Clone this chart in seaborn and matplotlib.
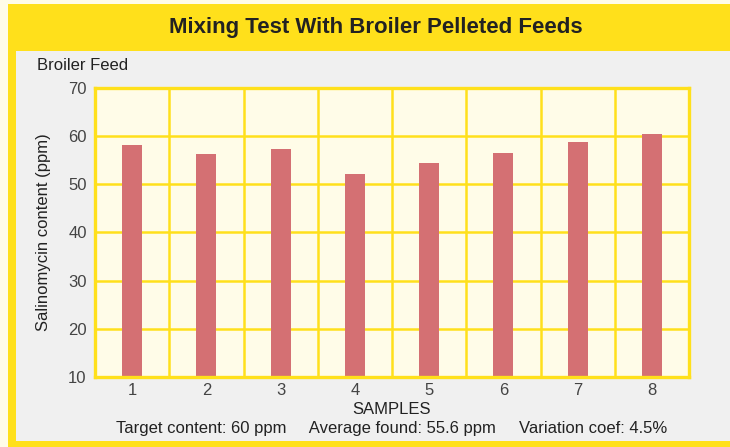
import numpy as np
import matplotlib
matplotlib.use("Agg")
import matplotlib.pyplot as plt
from matplotlib.patches import Rectangle
import pandas as pd
import seaborn as sns

samples = ["1", "2", "3", "4", "5", "6", "7", "8"]
salinomycin = [58.1, 56.2, 57.4, 52.2, 54.5, 56.6, 58.7, 60.4]
y_ticks = [10, 20, 30, 40, 50, 60, 70]

YELLOW = "#FFE01B"
CREAM = "#FFFCE8"
GRAY = "#F0F0F0"
BAR = "#D47073"
TEXT = "#222222"

sns.set_theme(style="white")
plt.rcParams["font.family"] = ["Liberation Sans", "DejaVu Sans"]

df = pd.DataFrame({"sample": samples, "ppm": salinomycin})

W, H = 730, 447
fig = plt.figure(figsize=(7.3, 4.47), dpi=100)
fig.patch.set_facecolor(CREAM)

# frame: yellow title band + left strip, gray panel (pixel coords, y from top)
bg = fig.add_axes([0, 0, 1, 1], zorder=-10)
bg.set_xlim(0, W)
bg.set_ylim(H, 0)
bg.axis("off")
bg.add_patch(Rectangle((8, 4), W, H, facecolor=YELLOW, edgecolor="none"))
bg.add_patch(Rectangle((16, 51), W, 441 - 51, facecolor=GRAY, edgecolor="none"))

ax = fig.add_axes([95 / W, 1 - 377 / H, (689 - 95) / W, (377 - 88) / H], zorder=1)
sns.barplot(data=df, x="sample", y="ppm", color=BAR, width=0.27, saturation=1,
            linewidth=0, edgecolor=BAR, ax=ax)

ax.set_facecolor(CREAM)
ax.set_ylim(10, 70)
ax.set_xlim(-0.5, 7.5)
ax.set_yticks(y_ticks)
ax.set_xticks(np.arange(0.5, 7.5, 1), minor=True)
ax.set_axisbelow(True)
ax.grid(which="major", axis="y", color=YELLOW, linewidth=1.8)
ax.grid(which="minor", axis="x", color=YELLOW, linewidth=1.8)
ax.grid(which="major", axis="x", visible=False)
for s in ax.spines.values():
    s.set_color(YELLOW)
    s.set_linewidth(2.4)
ax.tick_params(axis="both", which="both", length=0, labelsize=12, colors="#444444")
ax.tick_params(axis="x", pad=4)
ax.tick_params(axis="y", pad=6)

ax.set_xlabel("SAMPLES", fontsize=12, color=TEXT, labelpad=3)
ax.set_ylabel("Salinomycin content (ppm)", fontsize=12, color=TEXT, labelpad=12)

fig.text(376 / W, 1 - 28 / H, "Mixing Test With Broiler Pelleted Feeds",
         ha="center", va="center", fontsize=16, fontweight="bold", color=TEXT)
fig.text(37 / W, 1 - 66 / H, "Broiler Feed", ha="left", va="center",
         fontsize=12, color=TEXT)
fig.text(392 / W, 1 - 429 / H,
         "Target content: 60 ppm     Average found: 55.6 ppm     Variation coef: 4.5%",
         ha="center", va="center", fontsize=12, color=TEXT)

fig.savefig("out.png", dpi=100, facecolor=fig.get_facecolor())
